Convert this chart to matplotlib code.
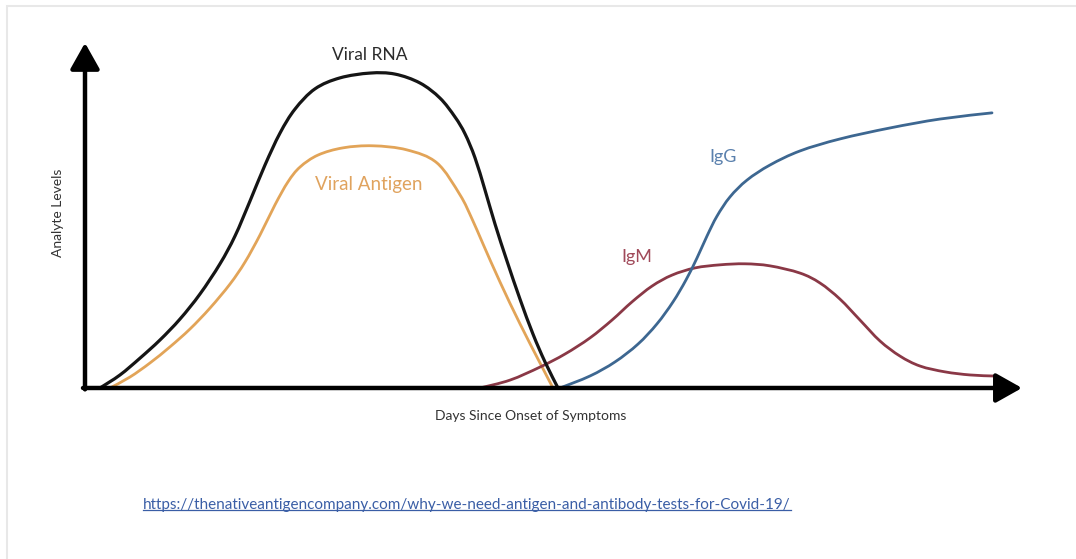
import matplotlib.pyplot as plt
from matplotlib.patches import Rectangle, PathPatch
from matplotlib.path import Path
from matplotlib.lines import Line2D

# values (days since onset, analyte level 0-100)
rna_days = [1.5, 3.5, 5.5, 7.5, 9.5, 11.5, 13.5, 15.0, 16.5, 18.0, 19.5, 21.0, 23.0,
            25.5, 28.5, 31.0, 33.5, 35.5, 37.0, 38.0, 39.0, 40.0, 41.0, 42.2, 43.5,
            44.8, 46.0, 47.3]
rna_level = [0, 3.8, 8.7, 14.0, 20.1, 27.4, 36.2, 44.3, 54.5, 65.0, 74.3, 81.3, 87.2,
             90.4, 91.8, 91.5, 88.9, 84.5, 79.0, 74.1, 67.1, 57.7, 47.8, 37.0, 25.9,
             15.7, 7.6, 0]

antigen_days = [2.5, 4.5, 6.5, 8.5, 10.5, 12.5, 14.5, 16.0, 17.5, 19.0, 20.3, 21.5,
                23.3, 25.8, 28.8, 32.2, 35.2, 37.5, 38.7, 39.8, 41.5, 43.5, 45.5, 46.8]
antigen_level = [0, 3.2, 7.3, 12.0, 17.2, 23.3, 30.3, 36.7, 44.6, 53.4, 60.1, 64.4,
                 67.9, 70.0, 70.6, 69.4, 65.6, 56.3, 49.3, 42.0, 30.9, 18.7, 7.3, 0]

igm_days = [39.5, 42.5, 45.5, 48.0, 50.5, 52.7, 54.7, 56.7, 58.7, 61.0, 63.5, 66.0,
            68.5, 71.5, 73.5, 75.5, 77.5, 79.5, 81.5, 83.5, 86.0, 88.5, 90.8]
igm_level = [0, 2.3, 6.1, 9.9, 14.6, 19.8, 25.1, 29.7, 32.9, 35.0, 35.9, 36.2,
             35.6, 33.5, 30.6, 25.9, 19.8, 13.7, 9.3, 6.4, 4.7, 3.8, 3.5]

igg_days = [47.5, 50.5, 53.0, 55.3, 57.2, 58.8, 60.1, 61.2, 62.2, 63.2, 64.5, 66.2,
            68.5, 71.5, 75.5, 80.5, 85.5, 90.7]
igg_level = [0, 3.5, 7.6, 12.8, 18.7, 25.1, 31.5, 37.9, 44.3, 50.1, 55.7, 60.6,
             65.0, 69.1, 72.6, 75.8, 78.4, 80.2]


def smooth_line(ax, xs, ys, **kw):
    # curved path through the read points (catmull-rom as bezier segments)
    pts = list(zip(xs, ys))
    verts = [pts[0]]
    codes = [Path.MOVETO]
    n = len(pts)
    for i in range(n - 1):
        p0 = pts[max(i - 1, 0)]
        p1 = pts[i]
        p2 = pts[i + 1]
        p3 = pts[min(i + 2, n - 1)]
        c1 = (p1[0] + (p2[0] - p0[0]) / 6, p1[1] + (p2[1] - p0[1]) / 6)
        c2 = (p2[0] - (p3[0] - p1[0]) / 6, p2[1] - (p3[1] - p1[1]) / 6)
        verts += [c1, c2, p2]
        codes += [Path.CURVE4] * 3
    ax.add_patch(PathPatch(Path(verts, codes), fill=False, capstyle='round',
                           joinstyle='round', **kw))


fig = plt.figure(figsize=(10.76, 5.59), dpi=100)
ax = fig.add_axes([0, 0, 1, 1])
ax.set_xlim(-8.5, 99.1)
ax.set_ylim(-49.85, 113.1)
ax.axis('off')

# faint frame of the screenshot
fig.patches.append(Rectangle((0.0065, -0.01), 1.1, 1.0, transform=fig.transFigure,
                             fill=False, edgecolor='#e8e8e8', lw=1.5))

smooth_line(ax, rna_days, rna_level, edgecolor='#151515', lw=2.3, zorder=4)
smooth_line(ax, antigen_days, antigen_level, edgecolor='#e2a458', lw=2.0, zorder=3)
smooth_line(ax, igm_days, igm_level, edgecolor='#8a3846', lw=2.0, zorder=3)
smooth_line(ax, igg_days, igg_level, edgecolor='#3d6791', lw=2.0, zorder=3)

# axes with arrows
arr = dict(arrowstyle='-|>,head_length=0.8,head_width=0.45', lw=3.2, color='black',
           mutation_scale=20, shrinkA=0, shrinkB=0)
ax.annotate('', xy=(93.7, 0), xytext=(-0.2, 0), arrowprops=arr, zorder=5)
ax.annotate('', xy=(0, 100.6), xytext=(0, -0.4), arrowprops=arr, zorder=5)

fam = ['Lato', 'DejaVu Sans']
ax.text(28.5, 97.1, 'Viral RNA', ha='center', va='center', fontsize=12.5,
        color='#2b2b2b', family=fam)
ax.text(28.4, 59.2, 'Viral Antigen', ha='center', va='center', fontsize=13.5,
        color='#e0a35e', family=fam)
ax.text(63.8, 67.3, 'IgG', ha='center', va='center', fontsize=13,
        color='#5a80ad', family=fam)
ax.text(55.2, 38.2, 'IgM', ha='center', va='center', fontsize=13,
        color='#a04a5a', family=fam)
ax.text(44.6, -8.2, 'Days Since Onset of Symptoms', ha='center', va='center',
        fontsize=10, color='#333333', family=fam)
ax.text(-2.7, 51, 'Analyte Levels', ha='center', va='center', rotation=90,
        fontsize=10, color='#333333', family=fam)

url = ax.text(38.2, -34.1, 'https://thenativeantigencompany.com/why-we-need-antigen-and-antibody-tests-for-Covid-19/',
              ha='center', va='center', fontsize=11, color='#3a5ea6', family=fam)
fig.canvas.draw()
bb = url.get_window_extent()
fig.add_artist(Line2D([bb.x0, bb.x1], [bb.y0 + 1.5, bb.y0 + 1.5], transform=None,
                      color='#3a5ea6', lw=0.9))

fig.savefig('out.png', dpi=100)
